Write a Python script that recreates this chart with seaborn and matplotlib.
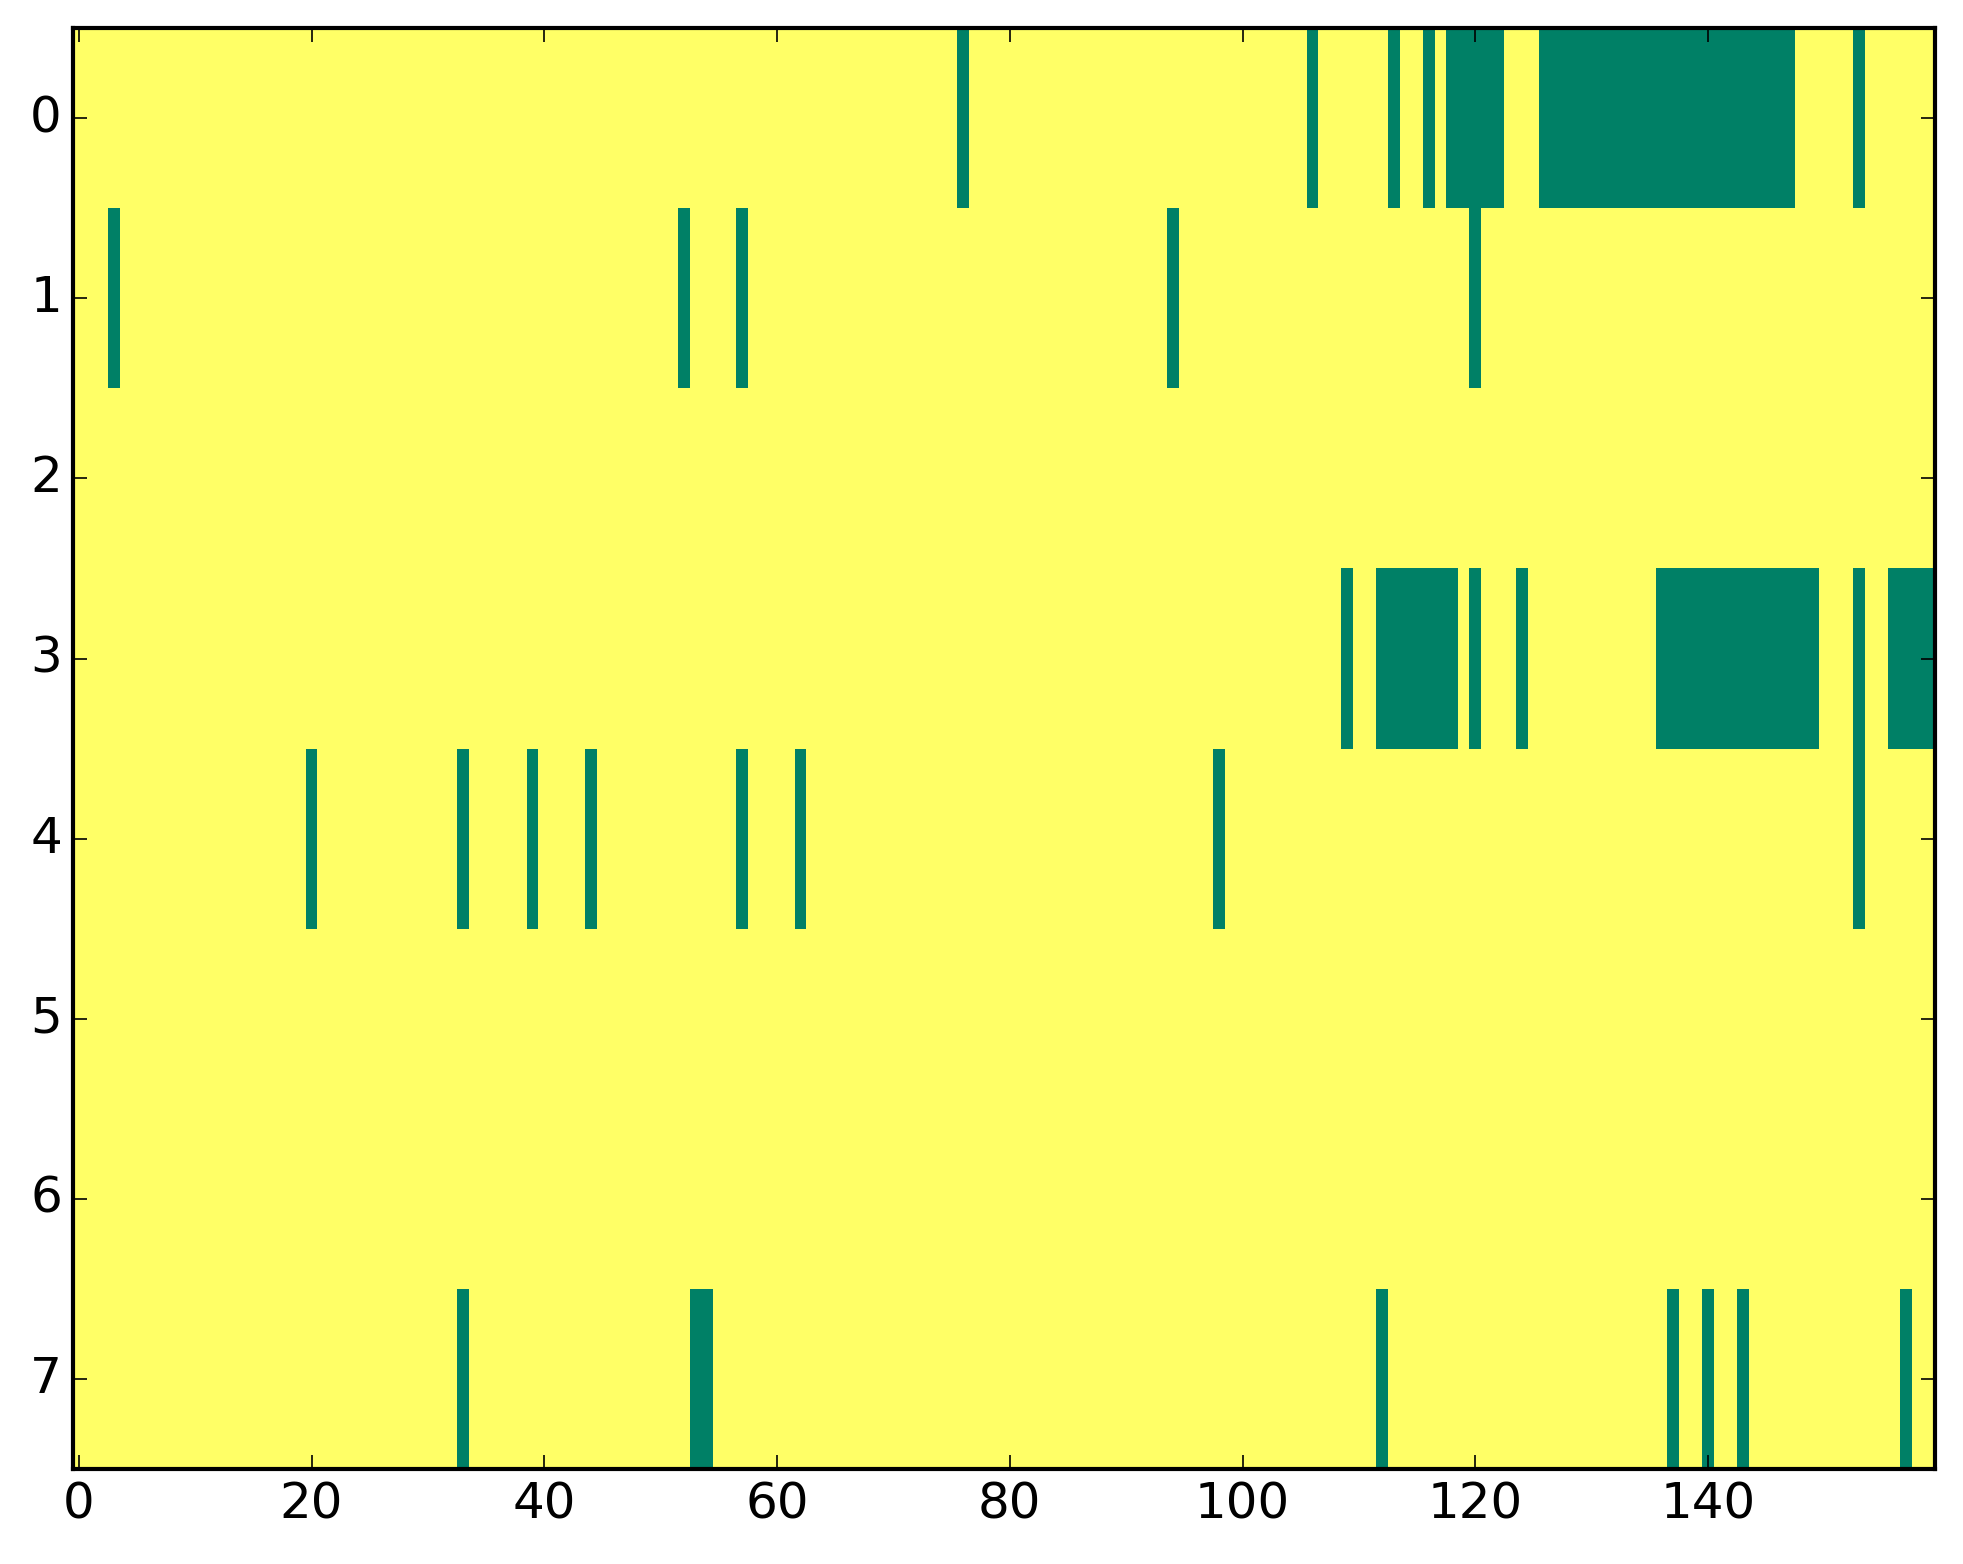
import numpy as np
import pandas as pd
import matplotlib
matplotlib.use("Agg")
import matplotlib.pyplot as plt
import seaborn as sns

# grid size: 8 rows x 160 columns, 1 = yellow, 0 = green
n_rows = 8
n_cols = 160

# columns that are 0 (green) in each row
row0_zeros = [76, 106, 113, 116] + list(range(118, 123)) + list(range(126, 148)) + [153]
row1_zeros = [3, 52, 57, 94, 120]
row2_zeros = []
row3_zeros = [109] + list(range(112, 119)) + [120, 124] + list(range(136, 150)) + [153] + list(range(156, 160))
row4_zeros = [20, 33, 39, 44, 57, 62, 98, 153]
row5_zeros = []
row6_zeros = []
row7_zeros = [33, 53, 54, 112, 137, 140, 143, 157]

zero_cols = [row0_zeros, row1_zeros, row2_zeros, row3_zeros,
             row4_zeros, row5_zeros, row6_zeros, row7_zeros]

x_tick_values = [0, 20, 40, 60, 80, 100, 120, 140]
y_tick_values = [0, 1, 2, 3, 4, 5, 6, 7]

grid = np.ones((n_rows, n_cols))
for r, cols in enumerate(zero_cols):
    grid[r, cols] = 0
data = pd.DataFrame(grid)

fig = plt.figure(figsize=(9.815, 7.82), dpi=200)
ax = fig.add_axes([0.0372, 0.0607, 0.9485, 0.9213])
sns.heatmap(data, cmap="summer", vmin=0, vmax=1, cbar=False, ax=ax)

ax.set_xticks(np.array(x_tick_values) + 0.5)
ax.set_xticklabels([str(v) for v in x_tick_values], rotation=0)
ax.set_yticks(np.array(y_tick_values) + 0.5)
ax.set_yticklabels([str(v) for v in y_tick_values], rotation=0)
ax.set_xlabel("")
ax.set_ylabel("")

for side in ["top", "bottom", "left", "right"]:
    ax.spines[side].set_visible(True)
    ax.spines[side].set_color("black")
    ax.spines[side].set_linewidth(1.5)

ax.tick_params(axis="both", which="major", direction="in", length=5, width=0.6,
               top=True, right=True, labelsize=18, colors="black", pad=4)

fig.savefig("out.png", dpi=200)
